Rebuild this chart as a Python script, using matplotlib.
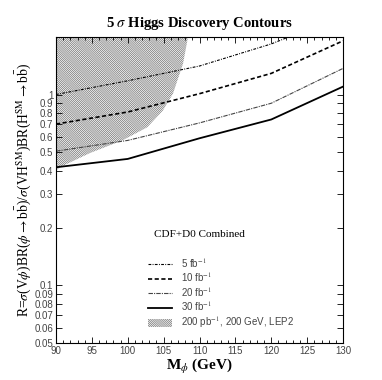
import matplotlib
matplotlib.use('Agg')
import matplotlib.pyplot as plt
from matplotlib.patches import Patch
from matplotlib.lines import Line2D
from matplotlib.ticker import FixedLocator, NullFormatter, MultipleLocator

plt.rcParams['mathtext.fontset'] = 'stix'
plt.rcParams['hatch.linewidth'] = 0.5
plt.rcParams['hatch.color'] = '#707070'

# data
mass = [90, 100, 110, 120, 130]
r_5fb = [1.0, 1.18, 1.41, 1.84, 2.6]
r_10fb = [0.70, 0.81, 1.01, 1.29, 1.91]
r_20fb = [0.505, 0.575, 0.71, 0.90, 1.37]
r_30fb = [0.416, 0.46, 0.59, 0.74, 1.10]

# LEP2 excluded region boundary (mass, R)
lep_m = [90.0, 90.6, 94.7, 99.3, 102.7, 104.9, 106.3, 107.7, 108.4]
lep_r = [0.40, 0.417, 0.493, 0.576, 0.673, 0.825, 1.01, 1.45, 2.0]

ytick_vals = [0.05, 0.06, 0.07, 0.08, 0.09, 0.1, 0.2, 0.3, 0.4, 0.5, 0.6, 0.7, 0.8, 0.9, 1]
ytick_labels = ['0.05', '0.06', '0.07', '0.08', '0.09', '0.1', '0.2', '0.3', '0.4',
                '0.5', '0.6', '0.7', '0.8', '0.9', '1']

serif = ['Liberation Serif', 'DejaVu Serif']
sans = ['Liberation Sans', 'DejaVu Sans']
hatch = '\\' * 16

fig = plt.figure(figsize=(3.82, 3.80), dpi=100)
ax = fig.add_axes([0.1466, 0.0974, 0.7514, 0.8052])

# hatched LEP2 region
px = [90] + lep_m + [90]
py = [2.0] + lep_r + [2.0]
ax.fill(px, py, facecolor='white', edgecolor='#707070', hatch=hatch, linewidth=0)

ax.plot(mass, r_5fb, color='black', lw=0.8, ls=(0, (2.5, 1.2, 0.8, 1.2)))
ax.plot(mass, r_10fb, color='black', lw=1.2, ls=(0, (2.5, 1.5)))
ax.plot(mass, r_20fb, color='#444444', lw=0.8, ls=(0, (4, 1, 1, 1)))
ax.plot(mass, r_30fb, color='black', lw=1.3, ls='-')

ax.set_yscale('log')
ax.set_xlim(90, 130)
ax.set_ylim(0.05, 2.0)

ax.yaxis.set_major_locator(FixedLocator(ytick_vals))
ax.set_yticklabels(ytick_labels)
ax.yaxis.set_minor_locator(FixedLocator([2.0]))
ax.yaxis.set_minor_formatter(NullFormatter())
ax.xaxis.set_major_locator(MultipleLocator(5))
ax.xaxis.set_minor_locator(MultipleLocator(1))

ax.tick_params(which='both', direction='in', top=True, right=True,
               labelsize=7, labelcolor='#444444', pad=2)
ax.tick_params(which='major', length=4, width=0.6)
ax.tick_params(which='minor', length=2, width=0.6)
for lab in ax.get_xticklabels() + ax.get_yticklabels():
    lab.set_family(sans)
for s in ax.spines.values():
    s.set_linewidth(0.8)

ax.set_title(r'5 $\sigma$ Higgs Discovery Contours', family=serif, fontsize=10.5,
             fontweight='bold', pad=7)
ax.set_xlabel(r'M$_\phi$ (GeV)', family=serif, fontsize=11, fontweight='bold', labelpad=1)
ax.set_ylabel(r'R=$\sigma$(V$\phi$)BR($\phi\rightarrow$b$\bar{\rm b}$)/$\sigma$(VH$^{\rm SM}$)BR(H$^{\rm SM}\rightarrow$b$\bar{\rm b}$)',
              family=serif, fontsize=9.8, labelpad=1)

ax.text(0.5, 0.355, 'CDF+D0 Combined', transform=ax.transAxes, ha='center',
        va='center', family=serif, fontsize=8)

handles = [
    Line2D([0], [0], color='black', lw=0.8, ls=(0, (2.5, 1.2, 0.8, 1.2))),
    Line2D([0], [0], color='black', lw=1.2, ls=(0, (2.5, 1.5))),
    Line2D([0], [0], color='#444444', lw=0.8, ls=(0, (4, 1, 1, 1))),
    Line2D([0], [0], color='black', lw=1.3),
    Patch(facecolor='white', edgecolor='#707070', hatch=hatch, lw=0),
]
labels = [r'5 fb$^{-1}$', r'10 fb$^{-1}$', r'20 fb$^{-1}$', r'30 fb$^{-1}$',
          r'200 pb$^{-1}$, 200 GeV, LEP2']
leg = ax.legend(handles, labels, loc='upper left', bbox_to_anchor=(0.304, 0.30),
                frameon=False, fontsize=7, handlelength=2.5, handleheight=0.9,
                handletextpad=0.9, labelspacing=0.1, borderpad=0)
for t in leg.get_texts():
    t.set_color('#444444')
    t.set_family(sans)

fig.savefig('out.png', dpi=100)
